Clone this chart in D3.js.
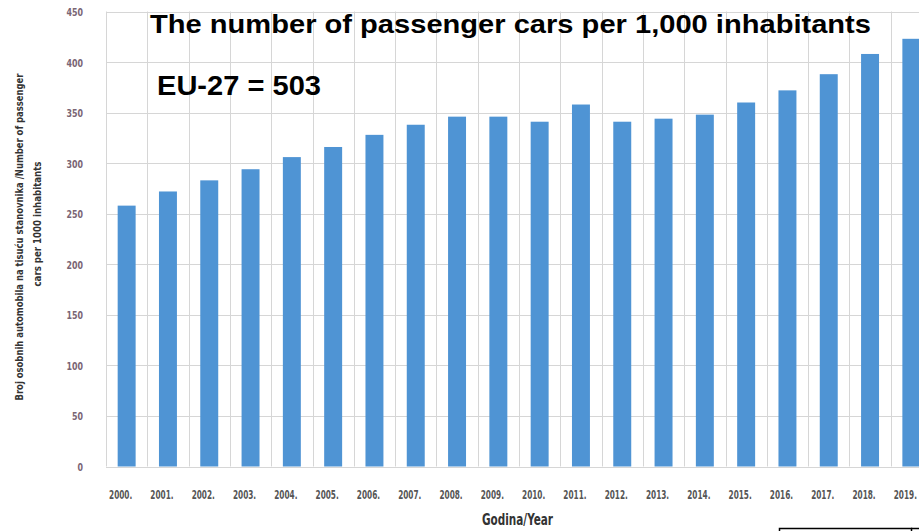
<!DOCTYPE html>
<html>
<head>
<meta charset="utf-8">
<script src="https://cdn.jsdelivr.net/npm/d3@7"></script>
<style>
  html, body { margin: 0; padding: 0; background: #fff; }
  svg { display: block; }
  .cond { font-family: "Liberation Sans Narrow", "DejaVu Sans Condensed", "Roboto Condensed", "DejaVu Sans", sans-serif; font-stretch: condensed; }
</style>
</head>
<body>
<svg id="chart" width="919" height="531"></svg>
<script>
// ---- data ----
const years = ["2000.", "2001.", "2002.", "2003.", "2004.", "2005.", "2006.", "2007.", "2008.", "2009.",
               "2010.", "2011.", "2012.", "2013.", "2014.", "2015.", "2016.", "2017.", "2018.", "2019."];
const carsPer1000 = [258, 272, 283, 294, 306, 316, 328, 338, 346, 346,
                     341, 358, 341, 344, 348, 360, 372, 388, 408, 423];
const yTicks = [0, 50, 100, 150, 200, 250, 300, 350, 400, 450];
const titleText = "The number of passenger cars per 1,000 inhabitants";
const noteText = "EU-27 = 503";
const yTitleLine1 = "Broj osobnih automobila na tisuću stanovnika /Number of passenger";
const yTitleLine2 = "cars per 1000 inhabitants";
const xTitle = "Godina/Year";

// ---- layout ----
const svg = d3.select("#chart");
const plotLeft = 106, plotTop = 11.5, plotBottom = 466.5;
const step = 41.3;
const plotRight = plotLeft + step * years.length;

const x = d3.scaleBand().domain(years).range([plotLeft, plotRight])
  .paddingInner(0.565).paddingOuter(0.2825);
const y = d3.scaleLinear().domain([0, 450]).range([plotBottom, plotTop]);

// squeeze text horizontally (condensed look)
function squeeze(sel, k) {
  sel.each(function () {
    const w = this.getComputedTextLength();
    this.setAttribute("textLength", (w * k).toFixed(1));
    this.setAttribute("lengthAdjust", "spacingAndGlyphs");
  });
}

// gridlines
const grid = svg.append("g").attr("stroke", "#d6d6d6").attr("stroke-width", 1);
grid.selectAll("line.h").data(yTicks).join("line")
  .attr("class", "h")
  .attr("x1", plotLeft).attr("x2", 919)
  .attr("y1", d => Math.round(y(d)) + 0.5).attr("y2", d => Math.round(y(d)) + 0.5);
const boundaries = years.map(d => x(d) + x.bandwidth() / 2 - x.step() / 2).concat([plotRight]);
grid.selectAll("line.v").data(boundaries).join("line")
  .attr("class", "v")
  .attr("x1", d => Math.round(d) + 0.5).attr("x2", d => Math.round(d) + 0.5)
  .attr("y1", y(450)).attr("y2", y(0));

// bars
svg.append("g").selectAll("rect").data(years).join("rect")
  .attr("x", d => x(d))
  .attr("width", x.bandwidth())
  .attr("y", (d, i) => y(carsPer1000[i]))
  .attr("height", (d, i) => y(0) - y(carsPer1000[i]))
  .attr("fill", "#4f94d4");

// y axis labels
const yAxis = svg.append("g").attr("transform", `translate(${plotLeft},0)`)
  .call(d3.axisLeft(y).tickValues(yTicks).tickSize(0).tickPadding(23).tickFormat(d3.format("d")));
yAxis.select(".domain").remove();
yAxis.selectAll("text").attr("class", "cond").attr("font-size", 11).attr("font-weight", "bold")
  .attr("fill", "#7a6574").attr("dy", "0.36em");
squeeze(yAxis.selectAll("text"), 0.8);

// x axis labels (condensed by a horizontal scale about each tick centre)
const xAxis = svg.append("g").attr("transform", `translate(-6,${plotBottom})`)
  .call(d3.axisBottom(x).tickSize(0).tickPadding(24));
xAxis.select(".domain").remove();
xAxis.selectAll("text").attr("class", "cond").attr("font-size", 12).attr("font-weight", "bold")
  .attr("fill", "#555").attr("transform", "scale(0.68,1)");

// x title
svg.append("text").attr("class", "cond")
  .attr("x", 482).attr("y", 525)
  .attr("font-size", 15).attr("font-weight", "bold").attr("fill", "#333")
  .attr("textLength", 71).attr("lengthAdjust", "spacingAndGlyphs")
  .text(xTitle);

// y title
svg.append("text").attr("class", "cond")
  .attr("transform", "translate(23,237) rotate(-90)")
  .attr("text-anchor", "middle").attr("font-size", 10.5).attr("font-weight", "bold").attr("fill", "#333")
  .attr("textLength", 327).attr("lengthAdjust", "spacingAndGlyphs")
  .text(yTitleLine1);
svg.append("text").attr("class", "cond")
  .attr("transform", "translate(41,224) rotate(-90)")
  .attr("text-anchor", "middle").attr("font-size", 10.5).attr("font-weight", "bold").attr("fill", "#333")
  .attr("textLength", 125).attr("lengthAdjust", "spacingAndGlyphs")
  .text(yTitleLine2);

// title and note
svg.append("text")
  .attr("x", 150).attr("y", 33)
  .attr("font-family", "'Liberation Sans', Arial, sans-serif").attr("font-weight", "bold")
  .attr("font-size", 25).attr("fill", "#000")
  .attr("textLength", 721).attr("lengthAdjust", "spacingAndGlyphs")
  .text(titleText);
svg.append("text")
  .attr("x", 157).attr("y", 95)
  .attr("font-family", "'Liberation Sans', Arial, sans-serif").attr("font-weight", "bold")
  .attr("font-size", 27).attr("fill", "#000")
  .attr("textLength", 164).attr("lengthAdjust", "spacingAndGlyphs")
  .text(noteText);

// bottom-right frame fragment
svg.append("rect").attr("x", 779.5).attr("y", 528.5).attr("width", 132).attr("height", 12)
  .attr("fill", "none").attr("stroke", "#000").attr("stroke-width", 1.5);
svg.append("line").attr("x1", 911).attr("x2", 919).attr("y1", 528.5).attr("y2", 528.5)
  .attr("stroke", "#000").attr("stroke-width", 1.5);
</script>
</body>
</html>
